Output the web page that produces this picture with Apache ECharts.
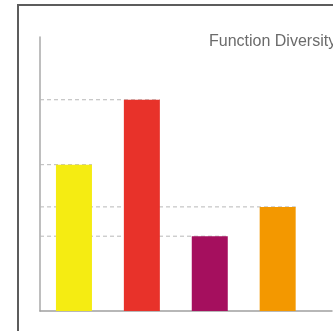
<!DOCTYPE html>
<html><head><meta charset="utf-8">
<script src="https://cdn.jsdelivr.net/npm/echarts@6/dist/echarts.min.js"></script>
<style>
html,body{margin:0;padding:0;background:#fff;overflow:hidden;width:333px;height:331px}
#frame{position:absolute;left:17px;top:4px;width:400px;height:400px;border:2px solid #5c5c5c;}
#chart{position:absolute;left:0;top:0;width:333px;height:331px;}
</style></head><body>
<div id="frame"></div><div id="chart"></div>
<script>
const titleText = 'Function Diversity';
const categories = ['Function 1', 'Function 2', 'Function 3', 'Function 4'];
const values = [53.4, 77.1, 27.3, 38.0];
const colors = ['#F5EC12', '#E8322A', '#A50F5E', '#F39800'];
const yMax = 100;

const chart = echarts.init(document.getElementById('chart'), null, {renderer: 'canvas'});
const BAR_W = 36;
chart.setOption({
  animation: false,
  backgroundColor: 'transparent',
  title: {
    text: titleText, left: 209, top: 34, padding: 0,
    textStyle: {fontFamily: 'Liberation Sans, Arial, sans-serif', fontSize: 16, fontWeight: 'normal', color: '#6b6b6b'}
  },
  grid: {left: 40, top: 37, right: 1, height: 274, containLabel: false},
  xAxis: {
    type: 'value', min: -0.5, max: 3.8,
    axisLine: {show: true, onZero: false, lineStyle: {color: '#a0a0a0', width: 1.5}},
    axisTick: {show: false}, axisLabel: {show: false}, splitLine: {show: false}
  },
  yAxis: {
    type: 'value', min: 0, max: yMax,
    axisLine: {show: true, onZero: false, lineStyle: {color: '#a8a8a8', width: 1.5}},
    axisTick: {show: false}, axisLabel: {show: false}, splitLine: {show: false}
  },
  series: [
    {
      type: 'custom', z: 1, silent: true,
      data: values.map((v, i) => [i, v, categories[i]]),
      renderItem: function (params, api) {
        const p = api.coord([api.value(0), api.value(1)]);
        const cs = params.coordSys;
        return {
          type: 'line',
          shape: {x1: cs.x, y1: p[1], x2: p[0] + BAR_W / 2, y2: p[1]},
          style: {stroke: '#b8b8b8', lineWidth: 1, lineDash: [4, 3]}
        };
      }
    },
    {
      type: 'bar', z: 2, barWidth: BAR_W,
      data: values.map((v, i) => ({value: [i, v], name: categories[i], itemStyle: {color: colors[i]}}))
    }
  ]
});
</script>
</body></html>
